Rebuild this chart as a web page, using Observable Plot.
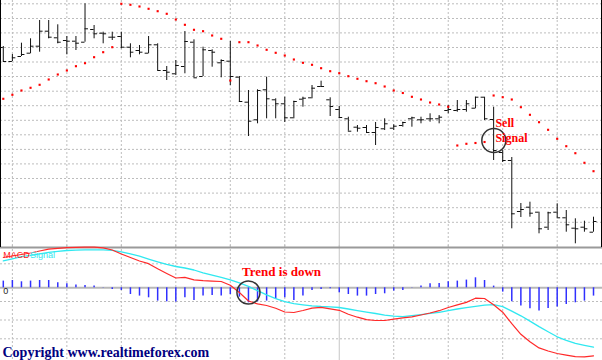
<!DOCTYPE html>
<html><head><meta charset="utf-8">
<script src="https://cdn.jsdelivr.net/npm/d3@7"></script>
<script src="https://cdn.jsdelivr.net/npm/@observablehq/plot@0.6"></script>
<style>
html,body{margin:0;padding:0;background:#fff;}
#wrap{position:relative;width:602px;height:360px;overflow:hidden;background:#fff;}
#wrap svg{position:absolute;left:0;}
.edge{position:absolute;background:#000;width:1px;}
</style></head><body>
<div id="wrap"></div>
<script>
// ---- price bars (OHLC), one per bar index 0..65 ----
const open  = [253,239,244,247.3,254.3,269.3,262.7,260,259.3,258.3, 271,267.3,263.3,264,253.3,250,247.3,255.7,230,226.7, 234,258.3,224,250,237.7,239.3,223.3,198.3,180.7,210.7, 200.7,196.7,182.7,201.3,202.7,214,200.7,191,181.7,173.3, 173,168,171.7,172.3,175,181.7,180.7,181.7,181.7,190, 190,191,192.3,203.3,181,148,140,89,93.3,88.3, 73.3,88.3,82.7,72.3,73.3,68.3];
const high  = [254,246,257.3,261.7,280,280,275.7,264,264,296.7, 275,268.3,268.3,268.3,256.7,255,264,256.7,234,240, 269,260.7,253.3,250.7,240.7,259,224,210,210.7,223.3, 201.7,203.3,199.3,203.3,215,219.3,202.7,194,183.3,175, 175,178,181.7,175.7,178.3,183.3,183.3,186.7,185,195, 200,200,203.3,203.3,193.3,150,143,97,98.3,88.3, 88.3,96.7,90,81.7,79.3,83.3];
const low   = [239,239,244,246.7,248.3,261.7,256.7,245.7,250,258.3, 261.7,256.7,260,251.7,242.7,245.7,246.7,230,220,225, 226.7,222.7,224,233.3,222.7,215,198.3,164,176.7,181.7, 181.7,178,181.7,193.3,201.7,213.3,184,182,169.3,168.3, 167,155,170,170,173.3,173.3,176.7,178.3,176.7,186.7, 188.3,188.3,191.7,180,140,138,71.7,83,83.3,66.7, 70,82.7,68.3,56.7,68.3,68.3];
const close = [239,242.7,246,254.3,269.3,263.3,258.3,259.3,257.3,271.7, 266.7,266.7,263.3,253.3,248.3,248.3,255.7,230,228.3,235, 259,222.7,250.7,248.3,240,224,199,179.3,210,201.7, 196.7,182.7,199,202.3,212.3,214,194,183,169.3,172.3, 168,173,176.7,174.3,178,182.7,180.7,181.7,183.3,191, 191,196.7,203.3,181.7,150,140,86.7,91,87.3,71.7, 87.7,82.7,75.7,71.7,71.7,79];
// ---- parabolic SAR ----
const sar   = [201.7,205.7,210,212.7,215.7,221,226,230,234.3,237.3, 243.3,248.3,253.3,296.7,295.7,294,291.7,289.3,286.7,281, 275.7,270.7,269.3,265,261.7,220,258.3,258.3,255,250.7, 247.7,245,241,237.7,235.7,232.3,229.3,227.3,224.3,221.7, 219.3,217.3,214,210,207.5,203.7,201,198,196,193.7, 155,156.7,157.5,158.5,205,203.3,201,193.3,185.7,178.3, 170.7,161.7,154.3,147.3,137.7,129.3];
// ---- MACD panel ----
const macd   = [30.3,31.8,33.3,34.8,36.8,38.6,39.5,40.1,40.5,40.6, 40.6,40,37.8,33.8,30.3,26.8,24.1,19,14.3,9.8, 10.5,8,7.1,6.6,6.3,2.5,-4.7,-13.2,-16.1,-17.7, -20.5,-24.2,-24.7,-22.7,-20.3,-19.5,-21,-22.5,-26.4,-29.4, -31.9,-32.7,-32.7,-31.3,-30,-29,-27.2,-25.2,-22.9,-19.7, -17,-14.6,-10.4,-10.7,-16.9,-24.4,-35.9,-46.5,-54,-60.1, -63.2,-65.7,-67.4,-68.9,-69.1,-68];
const signal = [27,29,31.1,32.5,34,35.5,36.5,37.3,37.7,38, 38,37.9,37.4,36,33.9,31.6,28.7,26,23.4,21.3, 19.8,17.8,15,12.7,10.5,8,5,1.4,-2.9,-7, -10.8,-13.8,-15.8,-17,-18.1,-18.7,-19,-19.7,-21.2,-22.8, -24.3,-25.7,-27.3,-28.4,-28.8,-27.9,-26.8,-25.6,-24.6,-22.8, -21.2,-19.8,-18.6,-17.3,-16.9,-18.8,-23.4,-28,-33.3,-38.8, -44,-49,-52.6,-55.6,-57.5,-59.3];
const hist   = [6.7,7.3,6,6.7,7.3,7.3,5,4,2.7,2.3, 1.7,0.3,-1.7,-2.7,-6.7,-8.3,-10,-13.3,-14,-14.3, -10,-12.7,-8.3,-7.7,-8.3,-6.7,-9.3,-15,-14,-13.3, -11.7,-10,-12.7,-8.3,-2.7,-1.7,-1,-5,-6.7,-8.3, -8.3,-6.7,-6,-3.3,-2.7,0.3,1.7,4,4.3,6, 6.7,7.7,10,7.3,1.7,-4.3,-14,-18.3,-21,-23.3, -20.7,-19.3,-16.7,-15,-13.3,-8.3];
// ---- grid / annotation values ----
const gridPrice = [296.7,282,267.6,253,238.5,224,209.3,194.8,180.2,165.7,151.1,136.6,122,107.4,92.8,78.2];
const gridMacd  = [24,-13.7,-32.2,-51];
const gridBars  = [1,7,13,19,25,31,43,49,55,61];
const solidBar  = [37];
const sellNote  = [{t:"Sell", i:54.2, p:177.3},{t:"Signal", i:54.2, p:162.3}];
const sellRing  = [{i:54.02, p:160}];
const trendNote = [{t:"Trend is down", i:26.3, v:16.2}];
const trendRing = [{i:27.0, v:-4.7}];
const legendLab = [{t:"MACD", i:-0.01, v:32.2, c:"#ff2020"},{t:"Signal", i:2.95, v:32.2, c:"#30e8f0"}];
const zeroLab   = [{t:"0", i:-0.01, v:-3.8}];
const credit    = [{t:"Copyright www.realtimeforex.com", i:-0.09, v:-64.8}];

const rows = open.map((o,i)=>({i, open:o, high:high[i], low:low[i], close:close[i], sar:sar[i], macd:macd[i], signal:signal[i], hist:hist[i]}));
const X = {domain:[-0.308, 65.99], axis:null};
const dashed = {stroke:"#bdbdbd", strokeDasharray:"2,2"};
const solid = {stroke:"#c6c6c6"};
const serif = "Liberation Serif, Times New Roman, serif";

const main = Plot.plot({
  width:602, height:247, margin:0,
  x:X, y:{domain:[53,300], axis:null},
  style:{background:"transparent", overflow:"visible"},
  marks:[
    Plot.ruleY(gridPrice, dashed),
    Plot.ruleX(gridBars, dashed),
    Plot.ruleX(solidBar, solid),
    Plot.ruleX(rows, {x:"i", y1:"low", y2:"high", stroke:"#111"}),
    Plot.ruleY(rows, {y:"open", x1:d=>d.i-0.38, x2:"i", stroke:"#111"}),
    Plot.ruleY(rows, {y:"close", x1:"i", x2:d=>d.i+0.38, stroke:"#111"}),
    Plot.dot(rows, {x:"i", y:"sar", r:1.2, symbol:"square", fill:"#ff0000"}),
    Plot.dot(sellRing, {x:"i", y:"p", r:12, stroke:"#333", fill:"none"}),
    Plot.text(sellNote, {x:"i", y:"p", text:"t", textAnchor:"start", fill:"#ff0000", fontSize:12, fontWeight:"bold", fontFamily:serif})
  ]
});
main.style.top = "0px";

const lower = Plot.plot({
  width:602, height:115, margin:0,
  x:X, y:{domain:[-72.7,42.3], axis:null},
  style:{background:"transparent", overflow:"visible"},
  marks:[
    Plot.ruleY(gridMacd, dashed),
    Plot.ruleX(gridBars, dashed),
    Plot.ruleX(solidBar, solid),
    Plot.ruleY([0], {stroke:"#b8b8b8", strokeWidth:2}),
    Plot.ruleX(rows, {x:"i", y1:0, y2:"hist", stroke:"#3030ff", strokeWidth:1.5}),
    Plot.ruleY([40.3], {stroke:"#9a9a9a", strokeWidth:2}),
    Plot.line(rows, {x:"i", y:"signal", stroke:"#30e8f0", strokeWidth:1.3}),
    Plot.line(rows, {x:"i", y:"macd", stroke:"#ff2a2a", strokeWidth:1.2}),
    Plot.dot(trendRing, {x:"i", y:"v", r:11.5, stroke:"#333", fill:"none"}),
    Plot.text(trendNote, {x:"i", y:"v", text:"t", textAnchor:"start", fill:"#ff0000", fontSize:13, fontWeight:"bold", fontFamily:serif}),
    Plot.text(legendLab, {x:"i", y:"v", text:"t", textAnchor:"start", fill:"c", fontSize:9, fontFamily:"Liberation Sans, Arial, sans-serif"}),
    Plot.text(zeroLab, {x:"i", y:"v", text:"t", textAnchor:"start", fill:"#222", fontSize:9, fontFamily:"Liberation Sans, Arial, sans-serif"}),
    Plot.text(credit, {x:"i", y:"v", text:"t", textAnchor:"start", fill:"#000080", fontSize:14, fontWeight:"bold", fontFamily:serif})
  ]
});
lower.style.top = "245px";

const wrap = document.getElementById("wrap");
wrap.appendChild(main);
wrap.appendChild(lower);
for (const x of [0, 601]) {
  const e = document.createElement("div");
  e.className = "edge";
  e.style.left = x + "px"; e.style.top = "0px"; e.style.height = "247px";
  wrap.appendChild(e);
}
</script>
</body></html>
